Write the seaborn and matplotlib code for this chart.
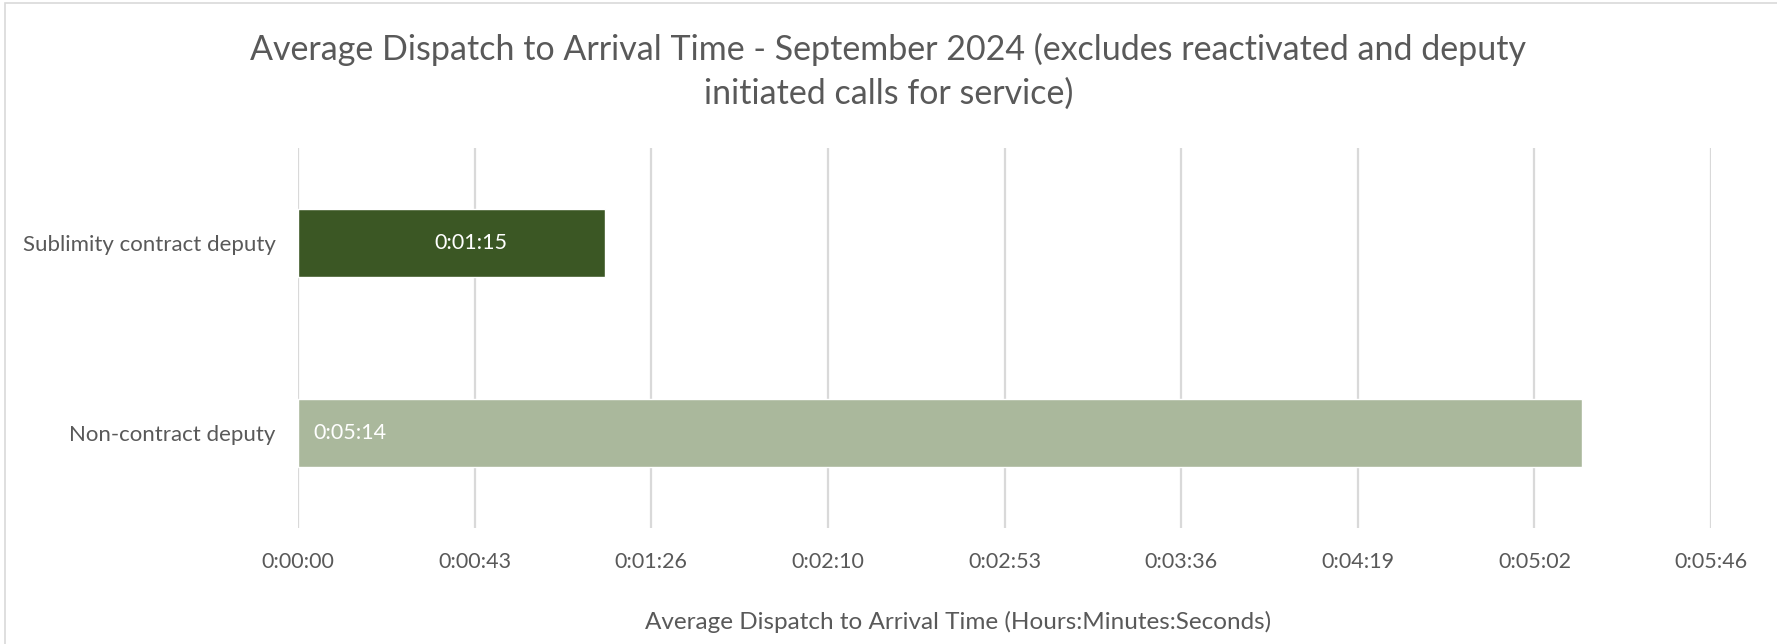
import pandas as pd
import matplotlib
matplotlib.use('Agg')
import matplotlib.pyplot as plt
import matplotlib.ticker as mticker
from matplotlib.patches import Rectangle
import seaborn as sns

# average dispatch-to-arrival time, in seconds
groups = ['Sublimity contract deputy', 'Non-contract deputy']
avg_seconds = [75, 314]
bar_colors = ['#3B5724', '#AAB89C']

data = pd.DataFrame({'Group': groups, 'Seconds': avg_seconds})

sns.set_theme(style='white')
plt.rcParams['font.family'] = ['Lato', 'DejaVu Sans']
grey = '#595959'


def hms(sec, pos=None):
    s = int(round(sec))
    return f'{s // 3600}:{(s % 3600) // 60:02d}:{s % 60:02d}'


fig = plt.figure(figsize=(17.77, 6.44), dpi=100)
ax = fig.add_axes([0.1677, 0.1801, 0.7952, 0.5901])

sns.barplot(data=data, y='Group', x='Seconds', hue='Group', palette=bar_colors,
            orient='h', width=0.358, legend=False, saturation=1, ax=ax)

ax.set_xlim(0, 345.6)
ax.set_ylim(1.5, -0.5)
ax.xaxis.set_major_locator(mticker.MultipleLocator(43.2))
ax.xaxis.set_major_formatter(mticker.FuncFormatter(hms))
ax.grid(axis='x', color='#D9D9D9', linewidth=1.6)
ax.set_axisbelow(True)
for sp in ax.spines.values():
    sp.set_visible(False)
ax.tick_params(axis='x', length=0, labelsize=15.5, labelcolor=grey, pad=17)
ax.tick_params(axis='y', length=0, labelsize=16, labelcolor=grey, pad=16)
ax.set_ylabel('')
ax.set_xlabel('Average Dispatch to Arrival Time (Hours:Minutes:Seconds)',
              fontsize=17.5, color=grey, va='center')
ax.xaxis.set_label_coords(0.467, -0.247)

# data labels
for i, v in enumerate(avg_seconds):
    if i == 0:
        ax.annotate(hms(v), (v / 2, i), xytext=(14, 0), textcoords='offset points',
                    ha='center', va='center', color='white', fontsize=15.5)
    else:
        ax.annotate(hms(v), (0, i), xytext=(11, 0), textcoords='offset points',
                    ha='left', va='center', color='white', fontsize=15.5)

fig.text(0.5, 0.889,
         'Average Dispatch to Arrival Time - September 2024 (excludes reactivated and deputy\n'
         'initiated calls for service)', fontsize=24.5, color=grey,
         ha='center', va='center', linespacing=1.42)

# chart-area border
fig.patches.append(Rectangle((5 / 1777, -0.1), 1.2, 1 - 3 / 644 + 0.1, transform=fig.transFigure,
                             fill=False, edgecolor='#D9D9D9', linewidth=1.2))

fig.savefig('out.png', dpi=100)
